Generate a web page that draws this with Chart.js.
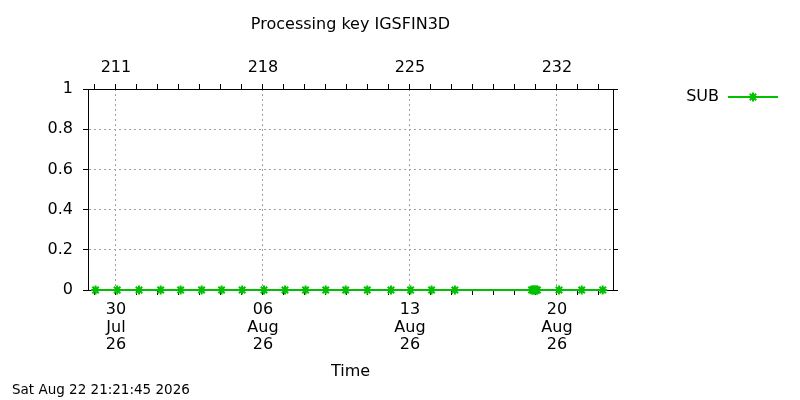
<!doctype html>
<html lang="en">
<head>
  <meta charset="UTF-8" />
  <title>Processing key IGSFIN3D</title>
  <script src="https://cdn.jsdelivr.net/npm/chart.js@4.4.4/dist/chart.umd.min.js"></script>
  <style>
    html, body { margin: 0; padding: 0; background: #fff; }
    #wrap { width: 800px; height: 400px; }
  </style>
</head>
<body>
  <div id="wrap"><canvas id="keyChart" width="800" height="400"></canvas></div>

  <script>
    // x values are day-of-year 2026 (211 = 30 Jul)
    const subDays = [210.03, 211.06, 212.1, 213.13, 214.08, 215.08, 216.03, 217.01,
      218.05, 219.05, 220.03, 220.99, 221.94, 222.97, 224.1, 225.03, 226.03, 227.14,
      230.79, 230.85, 230.9, 230.96, 231.02, 231.07, 232.1, 233.18, 234.18];
    const subValues = [0, 0, 0, 0, 0, 0, 0, 0,
      0, 0, 0, 0, 0, 0, 0, 0, 0, 0,
      0, 0, 0, 0, 0, 0, 0, 0, 0];

    const dayTicks = [210, 211, 212, 213, 214, 215, 216, 217, 218, 219, 220, 221, 222,
      223, 224, 225, 226, 227, 228, 229, 230, 231, 232, 233, 234];
    const majorDays = [211, 218, 225, 232];
    const dateLabels = [['30', 'Jul', '26'], ['06', 'Aug', '26'], ['13', 'Aug', '26'], ['20', 'Aug', '26']];
    const dayLabels = ['211', '218', '225', '232'];
    const yTicks = [0, 0.2, 0.4, 0.6, 0.8, 1];
    const yLabels = ['0', '0.2', '0.4', '0.6', '0.8', '1'];

    const xMin = 209.67;
    const xMax = 234.67;

    const GREEN = '#00c000';
    const GRID = '#a0a0a0';
    const FONT = 'DejaVu Sans';

    function setDayTicks(scale) {
      scale.ticks = dayTicks.map((v) => ({ value: v }));
    }
    function setYTicks(scale) {
      scale.ticks = yTicks.map((v) => ({ value: v }));
    }
    function isMajor(v) {
      return majorDays.indexOf(v) >= 0;
    }

    const extras = {
      id: 'extras',
      afterDraw(chart) {
        const ctx = chart.ctx;
        ctx.save();
        // legend
        ctx.font = '16px "' + FONT + '"';
        ctx.fillStyle = '#000';
        ctx.textAlign = 'right';
        ctx.textBaseline = 'middle';
        ctx.fillText('SUB', 719, 97);
        ctx.strokeStyle = GREEN;
        ctx.lineWidth = 2;
        ctx.beginPath();
        ctx.moveTo(728, 97);
        ctx.lineTo(778, 97);
        ctx.stroke();
        const cx = 753, cy = 97, r = 4.5, d = r * Math.SQRT1_2;
        ctx.beginPath();
        ctx.moveTo(cx - r, cy); ctx.lineTo(cx + r, cy);
        ctx.moveTo(cx, cy - r); ctx.lineTo(cx, cy + r);
        ctx.moveTo(cx - d, cy - d); ctx.lineTo(cx + d, cy + d);
        ctx.moveTo(cx - d, cy + d); ctx.lineTo(cx + d, cy - d);
        ctx.stroke();
        // timestamp
        ctx.font = '13.5px "' + FONT + '"';
        ctx.fillStyle = '#000';
        ctx.textAlign = 'left';
        ctx.fillText('Sat Aug 22 21:21:45 2026', 12, 390);
        ctx.restore();
      }
    };

    const tickFont = { family: FONT, size: 16, lineHeight: 1.1 };
    const titleFont = { family: FONT, size: 16, lineHeight: 1.2 };

    new Chart(document.getElementById('keyChart'), {
      type: 'line',
      data: {
        datasets: [{
          label: 'SUB',
          data: subDays.map((d, i) => ({ x: d, y: subValues[i] })),
          borderColor: GREEN,
          backgroundColor: GREEN,
          borderWidth: 2,
          pointStyle: 'star',
          pointRadius: 4.5,
          pointBorderWidth: 2,
          pointBorderColor: GREEN,
          pointBackgroundColor: GREEN,
          tension: 0,
          clip: false,
          xAxisID: 'x',
          yAxisID: 'y'
        }]
      },
      options: {
        responsive: false,
        animation: false,
        devicePixelRatio: 1,
        layout: { padding: 0 },
        plugins: {
          legend: { display: false },
          title: { display: false },
          tooltip: { enabled: false }
        },
        scales: {
          x: {
            type: 'linear',
            position: 'bottom',
            min: xMin,
            max: xMax,
            afterBuildTicks: setDayTicks,
            afterFit(scale) { scale.height = 110; },
            ticks: {
              autoSkip: false,
              maxRotation: 0,
              padding: 6,
              color: '#000',
              font: tickFont,
              callback(v) {
                const i = majorDays.indexOf(v);
                return i >= 0 ? dateLabels[i] : '';
              }
            },
            grid: {
              color: (c) => (c.tick && isMajor(c.tick.value) ? GRID : 'rgba(0,0,0,0)'),
              tickColor: '#000',
              tickLength: 5,
              lineWidth: 1
            },
            border: { display: true, color: '#000', width: 1, dash: [2, 3] },
            title: {
              display: true,
              text: 'Time',
              color: '#000',
              font: titleFont,
              padding: { top: 0, bottom: 19 }
            }
          },
          x2: {
            type: 'linear',
            position: 'top',
            min: xMin,
            max: xMax,
            afterBuildTicks: setDayTicks,
            afterFit(scale) { scale.height = 89; },
            ticks: {
              autoSkip: false,
              maxRotation: 0,
              padding: 7,
              color: '#000',
              font: tickFont,
              callback(v) {
                const i = majorDays.indexOf(v);
                return i >= 0 ? dayLabels[i] : '';
              }
            },
            grid: {
              drawOnChartArea: false,
              tickColor: '#000',
              tickLength: 5
            },
            border: { display: true, color: '#000', width: 1 },
            title: {
              display: true,
              text: 'Processing key IGSFIN3D',
              color: '#000',
              font: titleFont,
              padding: { top: 15, bottom: 0 }
            }
          },
          y: {
            type: 'linear',
            position: 'left',
            min: 0,
            max: 1,
            afterBuildTicks: setYTicks,
            afterFit(scale) { scale.width = 88; },
            ticks: {
              padding: 10,
              color: '#000',
              font: tickFont,
              callback(v) {
                const i = yTicks.findIndex((t) => Math.abs(t - v) < 1e-6);
                return i >= 0 ? yLabels[i] : '';
              }
            },
            grid: {
              color: (c) => (c.tick && c.tick.value > 0.01 && c.tick.value < 0.99 ? GRID : 'rgba(0,0,0,0)'),
              tickColor: '#000',
              tickLength: 5,
              lineWidth: 1
            },
            border: { display: true, color: '#000', width: 1, dash: [2, 3] }
          },
          y2: {
            type: 'linear',
            position: 'right',
            min: 0,
            max: 1,
            afterBuildTicks: setYTicks,
            afterFit(scale) { scale.width = 187; },
            ticks: { display: false },
            grid: {
              drawOnChartArea: false,
              tickColor: '#000',
              tickLength: 5
            },
            border: { display: true, color: '#000', width: 1 }
          }
        }
      },
      plugins: [extras]
    });
  </script>
</body>
</html>
